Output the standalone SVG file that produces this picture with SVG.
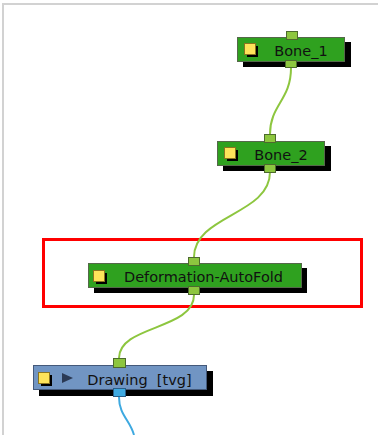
<svg xmlns="http://www.w3.org/2000/svg" width="378" height="435" viewBox="0 0 378 435">
<style>
.body{fill:#2fa11f;stroke:#55684a;stroke-width:1}
.dbody{fill:#7195c3;stroke:#44597a;stroke-width:1}
.shadow{fill:#000}
.port{fill:#8dc63f;stroke:#4d6a2e;stroke-width:1}
.bport{fill:#3ea9e0;stroke:#2a5d86;stroke-width:1}
.icon{fill:#fde35a;stroke:#8a7420;stroke-width:1}
.ishadow{fill:#000}
.lbl{font-family:"DejaVu Sans",sans-serif;font-size:14.5px;fill:#111;text-anchor:middle}
.wire{fill:none;stroke:#8dc63f;stroke-width:2}
.bwire{fill:none;stroke:#3ea9e0;stroke-width:2}
</style>
<rect width="378" height="435" fill="#fff"/>
<path d="M3,435 V4 H378" fill="none" stroke="#d2d2d2" stroke-width="2"/>
<rect x="43.5" y="239.5" width="318" height="67" fill="none" stroke="#f00" stroke-width="3"/>
<g id="connectors">
<path class="wire" d="M291,68 C291,100 270,105 270,134"/>
<path class="wire" d="M270,172 C270,215 194,215 194,257"/>
<path class="wire" d="M194,295 C194,330 119,325 119,358"/>
<path class="bwire" d="M119,397 C119,415 130,420 134,435"/>
</g>
<g id="bone1">
<rect class="shadow" x="243" y="42" width="108" height="25"/>
<rect class="body" x="237.5" y="37.5" width="107" height="24"/>
<rect class="ishadow" x="247" y="46" width="11" height="11"/>
<rect class="icon" x="244.5" y="43.5" width="11" height="11"/>
<text class="lbl" x="301" y="56">Bone_1</text>
<rect class="port" x="286.5" y="31.5" width="11" height="8"/>
<rect class="port" x="285.5" y="60.5" width="11" height="7"/>
</g>
<g id="bone2">
<rect class="shadow" x="223" y="146" width="108" height="25"/>
<rect class="body" x="217.5" y="141.5" width="107" height="24"/>
<rect class="ishadow" x="227" y="150" width="11" height="11"/>
<rect class="icon" x="224.5" y="147.5" width="11" height="11"/>
<text class="lbl" x="281" y="160">Bone_2</text>
<rect class="port" x="264.5" y="134.5" width="11" height="8"/>
<rect class="port" x="264.5" y="164.5" width="11" height="8"/>
</g>
<g id="deformation">
<rect class="shadow" x="94" y="268" width="213" height="25"/>
<rect class="body" x="88.5" y="263.5" width="213" height="24"/>
<rect class="ishadow" x="96" y="273" width="11" height="11"/>
<rect class="icon" x="93.5" y="270.5" width="11" height="11"/>
<text class="lbl" x="203.5" y="282">Deformation-AutoFold</text>
<rect class="port" x="188.5" y="257.5" width="11" height="8"/>
<rect class="port" x="188.5" y="286.5" width="11" height="8"/>
</g>
<g id="drawing">
<rect class="shadow" x="39" y="371" width="174" height="25"/>
<rect class="dbody" x="33.5" y="365.5" width="173" height="24"/>
<rect class="ishadow" x="41" y="375" width="11" height="11"/>
<rect class="icon" x="38.5" y="372.5" width="11" height="11"/>
<path d="M62,373 L73,378 L62,383 Z" fill="#2b3a55"/>
<text class="lbl" x="139.5" y="385" xml:space="preserve">Drawing  [tvg]</text>
<rect class="port" x="113.5" y="358.5" width="12" height="9"/>
<rect class="bport" x="113.5" y="388.5" width="12" height="8"/>
</g>
</svg>
